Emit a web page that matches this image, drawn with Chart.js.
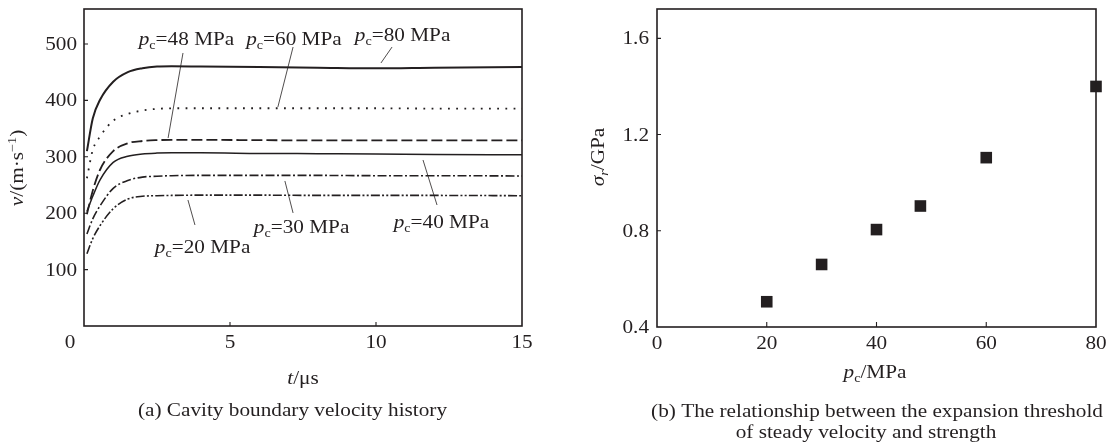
<!DOCTYPE html>
<html>
<head>
<meta charset="utf-8">
<script src="https://cdn.jsdelivr.net/npm/chart.js"></script>
<style>
  html, body { margin: 0; padding: 0; background: #fff; }
  #wrap { position: relative; width: 1109px; height: 443px; overflow: hidden; }
  canvas { position: absolute; top: 0; }
</style>
</head>
<body>
<div id="wrap">
  <canvas id="chartA" width="555" height="443" style="left:0"></canvas>
  <canvas id="chartB" width="554" height="443" style="left:555px"></canvas>
</div>
<script>
// ---- (a) cavity boundary velocity v (m/s) versus time t (µs) ----
const timeUs = [0.1, 0.3, 0.55, 1.0, 1.5, 2.0, 2.5, 3.0, 4.0, 6.0, 8.0, 10.0, 12.0, 15.0];
const vel80 = [310, 368, 401, 433, 450, 457, 460, 460.5, 460, 459, 458, 457, 458, 459];
const vel60 = [262, 312, 336, 364, 376, 382, 385, 386, 386, 386, 386, 386, 385.5, 385.5];
const vel48 = [198, 240, 277, 310, 324, 328, 329.5, 330, 330, 329.5, 329, 329, 329, 329];
const vel40 = [203, 230, 259, 290, 301, 305, 306.5, 307, 307, 306, 305.5, 305, 304, 303.5];
const vel30 = [163, 190, 213, 244, 258, 264, 265.5, 266.5, 267, 267, 267, 266.5, 266.5, 266];
const vel20 = [128, 155, 178, 208, 225, 230, 231, 231.5, 232, 232, 231.5, 231.5, 231.5, 231];
const velTicks = [100, 200, 300, 400, 500];
const timeTicks = [0, 5, 10, 15];

// ---- (b) expansion threshold of steady velocity versus strength ----
const pressureMPa = [20, 30, 40, 48, 60, 80];
const thresholdGPa = [0.505, 0.66, 0.805, 0.903, 1.104, 1.40];
const pressureTicks = [0, 20, 40, 60, 80];
const sigmaTicks = [0.4, 0.8, 1.2, 1.6];

const INK = '#231f20';
const FONT = '"Liberation Serif", "Times New Roman", serif';
const SIZE = 18;
const SX = 1.18;   // horizontal stretch of the lettering

// Draws a run of text pieces (italic / subscript / superscript) centred
// vertically on y; align refers to x.
function drawRich(ctx, parts, x, y, opts = {}) {
  const align = opts.align || 'center';
  const rot = opts.rot || 0;
  const size = opts.size || SIZE;
  const fontFor = p => `${p.it ? 'italic ' : ''}${(p.sub || p.sup) ? Math.round(size * 0.66) : size}px ${FONT}`;
  ctx.save();
  ctx.translate(x, y);
  if (rot) ctx.rotate(rot);
  ctx.scale(SX, 1);
  ctx.fillStyle = INK;
  ctx.textBaseline = 'alphabetic';
  ctx.textAlign = 'left';
  let w = 0;
  for (const p of parts) { ctx.font = fontFor(p); w += ctx.measureText(p.t).width; }
  let cx = align === 'center' ? -w / 2 : (align === 'right' ? -w : 0);
  const base = size * 0.33;
  for (const p of parts) {
    ctx.font = fontFor(p);
    const dy = p.sub ? size * 0.22 : (p.sup ? -size * 0.38 : 0);
    ctx.fillText(p.t, cx, base + dy);
    cx += ctx.measureText(p.t).width;
  }
  ctx.restore();
}

const pcLabel = n => [{ t: 'p', it: true }, { t: 'c', sub: true }, { t: '=' + n + ' MPa' }];

// Curve callouts: label centre and leader line, in (t, v) data units.
const callouts = [
  { p: 48, label: [3.51, 508.8], from: [3.39, 484], to: [2.88, 333.3] },
  { p: 60, label: [7.19, 508.8], from: [7.16, 494.6], to: [6.64, 388.3] },
  { p: 80, label: [10.91, 515.9], from: [10.55, 494.6], to: [10.17, 466.3] },
  { p: 40, label: [12.24, 184.4], from: [12.09, 214.5], to: [11.61, 294.3] },
  { p: 30, label: [7.45, 175.5], from: [7.16, 200.4], to: [6.88, 257.1] },
  { p: 20, label: [4.06, 140.1], from: [3.80, 179.1], to: [3.56, 223.4] }
];

const curveStyles = [
  { p: 80, v: vel80, dash: [], w: 2.0 },
  { p: 60, v: vel60, dash: [1.8, 6.4], w: 1.8 },
  { p: 48, v: vel48, dash: [11, 4], w: 1.8 },
  { p: 40, v: vel40, dash: [], w: 1.5 },
  { p: 30, v: vel30, dash: [9, 2.5, 2, 2.5], w: 1.6 },
  { p: 20, v: vel20, dash: [9, 2.2, 2, 2.2, 2, 2.2], w: 1.6 }
];

function drawFrame(ctx, a) {
  ctx.save();
  ctx.strokeStyle = INK;
  ctx.lineWidth = 1.6;
  ctx.strokeRect(a.left, a.top, a.right - a.left, a.bottom - a.top);
  ctx.restore();
}

const axesA = {
  id: 'axesA',
  afterDatasetsDraw(chart) {
    const { ctx, chartArea: a, scales: { x, y } } = chart;
    drawFrame(ctx, a);
    ctx.save();
    ctx.strokeStyle = INK;
    ctx.lineWidth = 1.1;
    ctx.beginPath();
    velTicks.forEach(v => { const py = y.getPixelForValue(v); ctx.moveTo(a.left, py); ctx.lineTo(a.left + 4, py); });
    timeTicks.forEach(t => {
      if (t === x.min || t === x.max) return;
      const px = x.getPixelForValue(t); ctx.moveTo(px, a.bottom); ctx.lineTo(px, a.bottom - 4);
    });
    ctx.stroke();
    // leader lines
    ctx.lineWidth = 0.8;
    ctx.beginPath();
    callouts.forEach(c => {
      ctx.moveTo(x.getPixelForValue(c.from[0]), y.getPixelForValue(c.from[1]));
      ctx.lineTo(x.getPixelForValue(c.to[0]), y.getPixelForValue(c.to[1]));
    });
    ctx.stroke();
    ctx.restore();

    velTicks.forEach(v => drawRich(ctx, [{ t: String(v) }], a.left - 7, y.getPixelForValue(v), { align: 'right' }));
    timeTicks.forEach(t => {
      const dx = t === 0 ? -14 : 0;
      drawRich(ctx, [{ t: String(t) }], x.getPixelForValue(t) + dx, a.bottom + 16.5);
    });
    callouts.forEach(c => drawRich(ctx, pcLabel(c.p), x.getPixelForValue(c.label[0]), y.getPixelForValue(c.label[1])));

    drawRich(ctx, [{ t: 't', it: true }, { t: '/μs' }], 303, 378);
    drawRich(ctx, [{ t: 'v', it: true }, { t: '/(m·s' }, { t: '−1', sup: true }, { t: ')' }], 17, 168, { rot: -Math.PI / 2 });
    drawRich(ctx, [{ t: '(a) Cavity boundary velocity history' }], 292.5, 410);
  }
};

const axesB = {
  id: 'axesB',
  afterDatasetsDraw(chart) {
    const { ctx, chartArea: a, scales: { x, y } } = chart;
    drawFrame(ctx, a);
    ctx.save();
    ctx.strokeStyle = INK;
    ctx.lineWidth = 1.1;
    ctx.beginPath();
    sigmaTicks.forEach(v => {
      if (v === y.min) return;
      const py = y.getPixelForValue(v); ctx.moveTo(a.left, py); ctx.lineTo(a.left + 4, py);
    });
    pressureTicks.forEach(p => {
      if (p === x.min || p === x.max) return;
      const px = x.getPixelForValue(p); ctx.moveTo(px, a.bottom); ctx.lineTo(px, a.bottom - 5);
    });
    ctx.stroke();
    ctx.restore();

    sigmaTicks.forEach(v => drawRich(ctx, [{ t: v.toFixed(1) }], a.left - 8, y.getPixelForValue(v), { align: 'right' }));
    pressureTicks.forEach(p => drawRich(ctx, [{ t: String(p) }], x.getPixelForValue(p), a.bottom + 16));

    drawRich(ctx, [{ t: 'p', it: true }, { t: 'c', sub: true }, { t: '/MPa' }], 320, 372);
    drawRich(ctx, [{ t: 'σ', it: true }, { t: 'r', it: true, sub: true }, { t: '/GPa' }], 43, 157, { rot: -Math.PI / 2 });
    drawRich(ctx, [{ t: '(b) The relationship between the expansion threshold' }], 322, 411);
    drawRich(ctx, [{ t: 'of steady velocity and strength' }], 311, 432);
  }
};

new Chart(document.getElementById('chartA'), {
  type: 'line',
  data: {
    datasets: curveStyles.map(c => ({
      label: 'pc=' + c.p + ' MPa',
      data: timeUs.map((t, i) => ({ x: t, y: c.v[i] })),
      borderColor: INK,
      borderWidth: c.w,
      borderDash: c.dash,
      borderCapStyle: 'butt',
      pointRadius: 0,
      fill: false,
      cubicInterpolationMode: 'monotone'
    }))
  },
  options: {
    responsive: false,
    animation: false,
    events: [],
    layout: { padding: { left: 84, top: 9, right: 33, bottom: 117 } },
    plugins: { legend: { display: false }, tooltip: { enabled: false } },
    scales: {
      x: { type: 'linear', min: 0, max: 15, display: false },
      y: { type: 'linear', min: 0, max: 562, display: false }
    }
  },
  plugins: [axesA]
});

new Chart(document.getElementById('chartB'), {
  type: 'scatter',
  data: {
    datasets: [{
      label: 'threshold',
      data: pressureMPa.map((p, i) => ({ x: p, y: thresholdGPa[i] })),
      pointStyle: 'rect',
      pointRadius: 8.2,
      backgroundColor: INK,
      borderColor: INK,
      borderWidth: 0,
      clip: false
    }]
  },
  options: {
    responsive: false,
    animation: false,
    events: [],
    layout: { padding: { left: 102, top: 9, right: 13, bottom: 116 } },
    plugins: { legend: { display: false }, tooltip: { enabled: false } },
    scales: {
      x: { type: 'linear', min: 0, max: 80, display: false },
      y: { type: 'linear', min: 0.4, max: 1.722, display: false }
    }
  },
  plugins: [axesB]
});
</script>
</body>
</html>
